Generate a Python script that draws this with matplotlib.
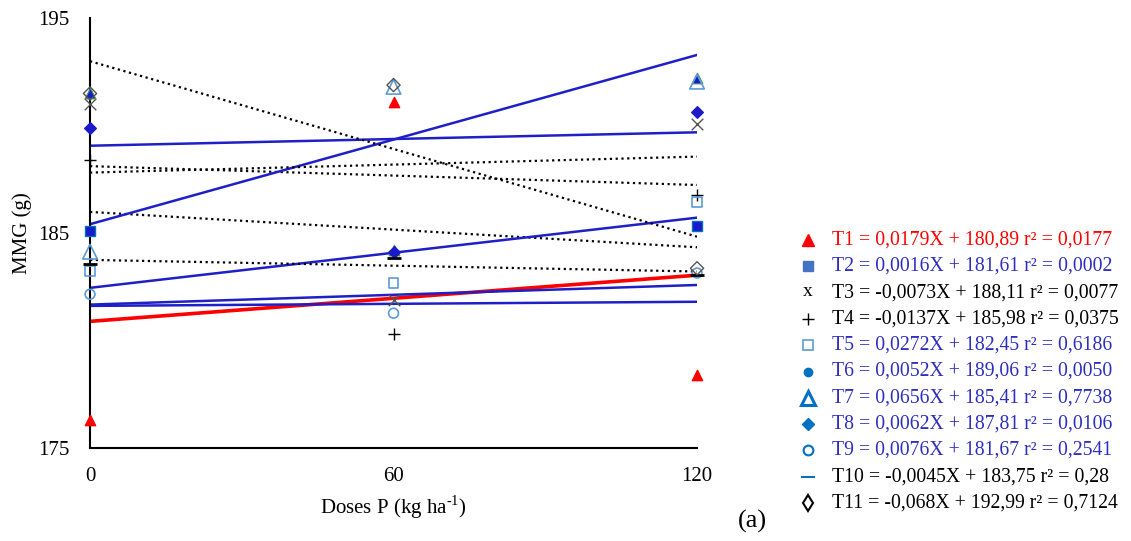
import matplotlib
matplotlib.use("Agg")
import matplotlib.pyplot as plt
import numpy as np

plt.rcParams['font.family'] = ['Liberation Serif', 'DejaVu Serif']
plt.rcParams['mathtext.fontset'] = 'custom'
plt.rcParams['mathtext.rm'] = 'Liberation Serif'

doses = [0, 60, 120]
names = ['T1', 'T2', 'T3', 'T4', 'T5', 'T6', 'T7', 'T8', 'T9', 'T10', 'T11']

# mean grain mass per treatment at each dose
mmg = {
    'T1': [176.3, 191.1, 178.4],
    'T2': [185.1, 174.7, 185.33],
    'T3': [190.99, 181.88, 190.06],
    'T4': [188.4, 180.3, 186.77],
    'T5': [183.23, 182.66, 186.46],
    'T6': [191.5, 184.2, 192.2],
    'T7': [184.13, 191.8, 192.04],
    'T8': [189.87, 184.13, 190.61],
    'T9': [182.15, 181.27, 183.14],
    'T10': [183.56, 183.83, 183.05],
    'T11': [191.49, 191.88, 183.36],
}

# fitted linear equations y = a*X + b and r2
slopes = [0.0179, 0.0016, -0.0073, -0.0137, 0.0272, 0.0052, 0.0656, 0.0062, 0.0076, -0.0045, -0.068]
intercepts = [180.89, 181.61, 188.11, 185.98, 182.45, 189.06, 185.41, 187.81, 181.67, 183.75, 192.99]
slope_txt = ['0,0179', '0,0016', '-0,0073', '-0,0137', '0,0272', '0,0052', '0,0656', '0,0062', '0,0076', '-0,0045', '-0,068']
r2 = ['0,0177', '0,0002', '0,0077', '0,0375', '0,6186', '0,0050', '0,7738', '0,0106', '0,2541', '0,28', '0,7124']

red = '#FF0000'
blue = '#1F1FC8'
lblue = '#5B9BD5'
mblue = '#0070C0'

dots = (0, (1, 1.6))
trend_style = {
    'T1': dict(color=red, lw=2.6, ls='-'),
    'T2': dict(color=blue, lw=1.8, ls='-'),
    'T3': dict(color='black', lw=1.6, ls=dots),
    'T4': dict(color='black', lw=1.6, ls=dots),
    'T5': dict(color=blue, lw=1.8, ls='-'),
    'T6': dict(color=blue, lw=1.8, ls='-'),
    'T7': dict(color=blue, lw=1.8, ls='-'),
    'T8': dict(color='black', lw=1.6, ls=dots),
    'T9': dict(color=blue, lw=1.8, ls='-'),
    'T10': dict(color='black', lw=1.6, ls=dots),
    'T11': dict(color='black', lw=1.6, ls=dots),
}

point_style = {
    'T1': dict(marker='^', s=55, c=red, edgecolors=red),
    'T2': dict(marker='s', s=45, c='#1A1AC8', edgecolors=mblue),
    'T3': dict(marker='x', s=70, c='#555555', linewidths=1.0),
    'T4': dict(marker='+', s=80, c='black', linewidths=1.0),
    'T5': dict(marker='s', s=50, facecolors='none', edgecolors=lblue, linewidths=1.2),
    'T6': dict(marker='^', s=60, c='#1A1AC8', edgecolors='#4E9A56', linewidths=0.8),
    'T7': dict(marker='^', s=110, facecolors='none', edgecolors=lblue, linewidths=1.2),
    'T8': dict(marker='D', s=35, c='#1A1AC8', edgecolors='#1A1AC8'),
    'T9': dict(marker='o', s=50, facecolors='none', edgecolors=lblue, linewidths=1.2),
    'T10': dict(marker='_', s=110, c='black', linewidths=2.0),
    'T11': dict(marker='D', s=45, facecolors='none', edgecolors='#555555', linewidths=1.0),
}

fig = plt.figure(figsize=(11.31, 5.41), dpi=100)
ax = fig.add_axes([0.0796, 0.1719, 0.5367, 0.7948])

xs = np.array([0, 120])
for i, t in enumerate(names):
    ax.plot(xs, slopes[i] * xs + intercepts[i], zorder=2, **trend_style[t])

for t in names:
    vals = np.array(mmg[t])
    keep = vals >= 175
    ax.scatter(np.array(doses)[keep], vals[keep], zorder=3, clip_on=False, **point_style[t])

ax.set_xlim(0, 120)
ax.set_ylim(175, 195)
ax.set_xticks(doses)
ax.set_yticks([175, 185, 195])
ax.tick_params(length=0, labelsize=15)
ax.tick_params(axis='y', pad=15)
ax.tick_params(axis='x', pad=14)
for side in ['top', 'right']:
    ax.spines[side].set_visible(False)
for side in ['left', 'bottom']:
    ax.spines[side].set_linewidth(1.5)
ax.set_ylabel('MMG (g)', fontsize=15, labelpad=4)
ax.set_xlabel(r'Doses P (kg ha$^{\mathrm{\text{-}1}}$)', fontsize=15, labelpad=5)

# equation block on the right, in pixel coordinates
lg = fig.add_axes([0, 0, 1, 1])
lg.set_xlim(0, 1131)
lg.set_ylim(541, 0)
lg.axis('off')

txt_color = [red, '#2E2EBE', 'black', 'black', '#2E2EBE', '#2E2EBE', '#2E2EBE', '#2E2EBE', '#2E2EBE', 'black', 'black']
leg_marks = [
    dict(marker='^', ms=9, color=red),
    dict(marker='s', ms=7, color='#4472C4'),
    None,
    dict(marker='+', ms=9, color='black', mew=1.0),
    dict(marker='s', ms=7, mfc='white', mec=lblue, mew=1.2),
    dict(marker='o', ms=6, color=mblue),
    dict(marker='^', ms=10, mfc='white', mec=mblue, mew=2.2),
    dict(marker='D', ms=6, color=mblue),
    dict(marker='o', ms=7, mfc='white', mec=mblue, mew=1.5),
    dict(marker='_', ms=10, color=mblue, mew=1.5),
    dict(marker='d', ms=8, mfc='white', mec='black', mew=1.5),
]
row0, step = 240, 26.3
for i, t in enumerate(names):
    y = row0 + i * step
    if leg_marks[i] is None:
        lg.text(808, y - 1, 'x', fontsize=14, ha='center', va='center')
    else:
        lg.plot([808], [y], ls='none', clip_on=False, **leg_marks[i])
    b = f'{intercepts[i]:.2f}'.replace('.', ',')
    label = f'{t} = {slope_txt[i]}X + {b} r² = {r2[i]}'
    lg.text(832, y, label, fontsize=14.2, color=txt_color[i], va='center', ha='left')

lg.text(752, 521, '(a)', fontsize=19, va='center', ha='center')

fig.savefig('out.png', dpi=100)
